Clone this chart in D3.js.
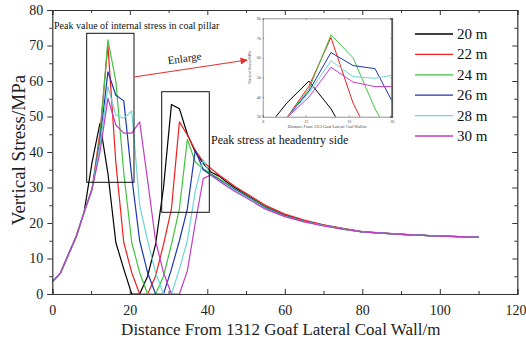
<!DOCTYPE html>
<html><head><meta charset="utf-8">
<script src="https://cdn.jsdelivr.net/npm/d3@7"></script>
<style>
body{margin:0;background:#fff}
svg{display:block}
text{font-family:"Liberation Serif","Times New Roman",serif}
</style>
</head><body><svg id="c" width="526" height="342"></svg>
<script>
// ---- data ----
const xs = [0,2.05,4.1,6.15,8.2,10.25,12.3,14.35,16.4,18.45,20.5,22.55,24.6,26.65,28.7,30.75,32.8,34.85,36.9,38.95,41,43.05,45.1,47.15,50,55,60,65,70,75,80,90,100,110];
const seriesNames = ["20 m","22 m","24 m","26 m","28 m","30 m"];
const s20 = [3.5,5.8,11,16.1,23,37,48.1,34,14.5,7,0,0,5,14,30,53.4,52.2,45,40,36.8,34.3,33.2,31.5,29.9,28.0,24.6,22.2,20.6,19.4,18.4,17.5,16.8,16.3,16.0];
const s22 = [3.5,5.8,11,16.1,23,29.5,45.5,70.2,37,14.5,6,0,0,5,14,24,48.5,44.8,40.5,37.3,35.3,33.5,31.9,30.3,28.4,25.0,22.5,20.8,19.5,18.5,17.6,16.85,16.3,16.0];
const s24 = [3.5,5.8,11,16.1,23,29.5,44,71.6,60,34,14.5,6,0,0,5,14,24,43.5,37.2,35.3,33.8,32.5,31.0,29.6,27.8,24.4,22.1,20.5,19.3,18.4,17.5,16.8,16.3,16.0];
const s26 = [3.5,5.8,11,16.1,23,29.5,43,62.6,56,54.4,33,15,6,0,0,7,15,24,40.5,35,33.5,32.2,30.8,29.4,27.6,24.2,22.0,20.4,19.3,18.3,17.5,16.8,16.3,16.0];
const s28 = [3.5,5.8,11,16.1,23,29.5,42,58.4,50.4,49.5,51.6,25,15,6,0,0,7,15,29,37.8,33.2,32.0,30.6,29.2,27.4,24.1,21.9,20.4,19.3,18.3,17.5,16.8,16.3,16.0];
const s30 = [3.5,5.8,11,16.1,23,29.5,40,55.1,47.6,45.3,45.3,48.5,32,15,6,0,0,6.5,20,32.5,33.6,31.8,30.3,28.9,27.1,23.9,21.8,20.3,19.2,18.3,17.5,16.8,16.3,16.0];
const seriesValues = [s20,s22,s24,s26,s28,s30];
const colors = ["#000000","#ee2020","#3fc43f","#1f35b0","#6fd6d6","#c23dc2"];
const xTicks = [0,20,40,60,80,100,120];
const xMinor = [10,30,50,70,90,110];
const yTicks = [0,10,20,30,40,50,60,70,80];
const yMinor = [5,15,25,35,45,55,65,75];
const insetXTicks = [8,12,16,20];
const insetYTicks = [30,40,50,60,70,80];

// ---- layout ----
const svg = d3.select("#c");
const L = 52.3, R = 517.3, T = 10, B = 294;
const x = d3.scaleLinear().domain([0,120]).range([L,R]);
const y = d3.scaleLinear().domain([0,80]).range([B,T]);
const axisColor = "#333";

const series = seriesValues.map((vals,i)=>({name:seriesNames[i], color:colors[i], pts: xs.map((xv,j)=>[xv, vals[j]])}));

// curves
const line = d3.line().x(d=>x(d[0])).y(d=>y(d[1]));
svg.append("g").selectAll("path").data(series).join("path")
  .attr("d", d=>line(d.pts)).attr("fill","none")
  .attr("stroke", d=>d.color).attr("stroke-width",1.2).attr("stroke-linejoin","round");

// axes
function styleAxis(g){
  g.selectAll(".domain").attr("stroke",axisColor).attr("stroke-width",1.2);
  g.selectAll(".tick line").attr("stroke",axisColor).attr("stroke-width",1);
  g.selectAll("text").attr("fill","#222").style("font-family",'"Liberation Serif",serif').style("font-size","14px");
}
const gb = svg.append("g").attr("transform",`translate(0,${B})`)
  .call(d3.axisBottom(x).tickValues(xTicks).tickSize(-5).tickPadding(11).tickFormat(d3.format("d")));
styleAxis(gb);
gb.selectAll(".tick text").filter(d=>d===120).attr("text-anchor","end").attr("x",8.6);
const gbm = svg.append("g").attr("transform",`translate(0,${B})`)
  .call(d3.axisBottom(x).tickValues(xMinor).tickSize(-3).tickFormat(""));
styleAxis(gbm); gbm.select(".domain").remove();

const gl = svg.append("g").attr("transform",`translate(${L},0)`)
  .call(d3.axisLeft(y).tickValues(yTicks).tickSize(5).tickPadding(4).tickFormat(d3.format("d")));
styleAxis(gl);
const glm = svg.append("g").attr("transform",`translate(${L},0)`)
  .call(d3.axisLeft(y).tickValues(yMinor).tickSize(3).tickFormat(""));
styleAxis(glm); glm.select(".domain").remove();

const gt = svg.append("g").attr("transform",`translate(0,${T})`)
  .call(d3.axisTop(x).tickValues(xTicks).tickSize(-5).tickFormat(""));
styleAxis(gt);
const gtm = svg.append("g").attr("transform",`translate(0,${T})`)
  .call(d3.axisTop(x).tickValues(xMinor).tickSize(-3).tickFormat(""));
styleAxis(gtm); gtm.select(".domain").remove();

const gr = svg.append("g").attr("transform",`translate(${R},0)`)
  .call(d3.axisRight(y).tickValues(yTicks).tickSize(-5).tickFormat(""));
styleAxis(gr);
const grm = svg.append("g").attr("transform",`translate(${R},0)`)
  .call(d3.axisRight(y).tickValues(yMinor).tickSize(-3).tickFormat(""));
styleAxis(grm); grm.select(".domain").remove();

// axis titles
svg.append("text").attr("x",(L+R)/2-4).attr("y",335).attr("text-anchor","middle")
  .style("font-size","17px").attr("fill","#222").text("Distance From 1312 Goaf Lateral Coal Wall/m");
svg.append("text").attr("transform","translate(25,150) rotate(-90)").attr("text-anchor","middle")
  .style("font-size","19px").attr("fill","#222").text("Vertical Stress/MPa");

// legend
const lg = svg.append("g");
series.forEach((s,i)=>{
  const yy = 34 + i*20.4;
  lg.append("line").attr("x1",415).attr("x2",453).attr("y1",yy).attr("y2",yy).attr("stroke",s.color).attr("stroke-width",1.3);
  lg.append("text").attr("x",457).attr("y",yy+5).style("font-size","15px").attr("fill","#111").text(s.name);
});

// annotation boxes
svg.append("rect").attr("x",86.7).attr("y",33.3).attr("width",47.3).attr("height",149).attr("fill","none").attr("stroke","#111").attr("stroke-width",1);
svg.append("rect").attr("x",161.7).attr("y",91.7).attr("width",47.6).attr("height",120.6).attr("fill","none").attr("stroke","#111").attr("stroke-width",1);
svg.append("text").attr("x",54).attr("y",29).style("font-size","10px").attr("fill","#111").text("Peak value of internal stress in coal pillar");
svg.append("text").attr("x",211).attr("y",144).style("font-size","12px").attr("fill","#111").text("Peak stress at headentry side");

// arrow
const defs = svg.append("defs");
defs.append("marker").attr("id","ah").attr("viewBox","0 0 10 10").attr("refX",9).attr("refY",5)
  .attr("markerWidth",7).attr("markerHeight",6).attr("orient","auto")
  .append("path").attr("d","M0,0 L10,5 L0,10 Z").attr("fill","#e53030");
svg.append("line").attr("x1",134).attr("y1",77).attr("x2",247).attr("y2",60).attr("stroke","#e53030").attr("stroke-width",1.2).attr("marker-end","url(#ah)");
svg.append("text").attr("transform","translate(185,62) rotate(-8)").attr("text-anchor","middle").style("font-size","11px").attr("fill","#111").text("Enlarge");

// inset
const IL = 262.7, IR = 391.7, IT = 18.3, IB = 116.7;
const ix = d3.scaleLinear().domain([8,20]).range([IL,IR]);
const iy = d3.scaleLinear().domain([30,80]).range([IB,IT]);
svg.append("rect").attr("x",IL).attr("y",IT).attr("width",IR-IL).attr("height",IB-IT).attr("fill","#fff");
defs.append("clipPath").attr("id","ic").append("rect").attr("x",IL).attr("y",IT).attr("width",IR-IL).attr("height",IB-IT);
const iline = d3.line().x(d=>ix(d[0])).y(d=>iy(d[1]));
svg.append("g").attr("clip-path","url(#ic)").selectAll("path").data(series).join("path")
  .attr("d", d=>iline(d.pts)).attr("fill","none").attr("stroke",d=>d.color).attr("stroke-width",1).attr("stroke-linejoin","round");
function styleInset(g){
  g.selectAll(".domain").attr("stroke","#666").attr("stroke-width",0.7);
  g.selectAll(".tick line").attr("stroke","#666").attr("stroke-width",0.6);
  g.selectAll("text").attr("fill","#444").style("font-size","4px");
}
const ib = svg.append("g").attr("transform",`translate(0,${IB})`).call(d3.axisBottom(ix).tickValues(insetXTicks).tickSize(-1.5).tickPadding(3));
styleInset(ib);
const il = svg.append("g").attr("transform",`translate(${IL},0)`).call(d3.axisLeft(iy).tickValues(insetYTicks).tickSize(-1.5).tickPadding(2));
styleInset(il);
const it = svg.append("g").attr("transform",`translate(0,${IT})`).call(d3.axisTop(ix).tickValues(insetXTicks).tickSize(-1.5).tickFormat(""));
styleInset(it);
const ir = svg.append("g").attr("transform",`translate(${IR},0)`).call(d3.axisRight(iy).tickValues(insetYTicks).tickSize(-1.5).tickFormat(""));
styleInset(ir);
ir.select(".domain").attr("stroke-width",1.8).attr("stroke","#555");
svg.append("text").attr("x",(IL+IR)/2).attr("y",128).attr("text-anchor","middle").style("font-size","4.2px").attr("fill","#444").text("Distance From 1312 Goaf Lateral Coal Wall/m");
svg.append("text").attr("transform",`translate(251,${(IT+IB)/2}) rotate(-90)`).attr("text-anchor","middle").style("font-size","4.2px").attr("fill","#444").text("Vertical Stress/MPa");
</script>
</body></html>
